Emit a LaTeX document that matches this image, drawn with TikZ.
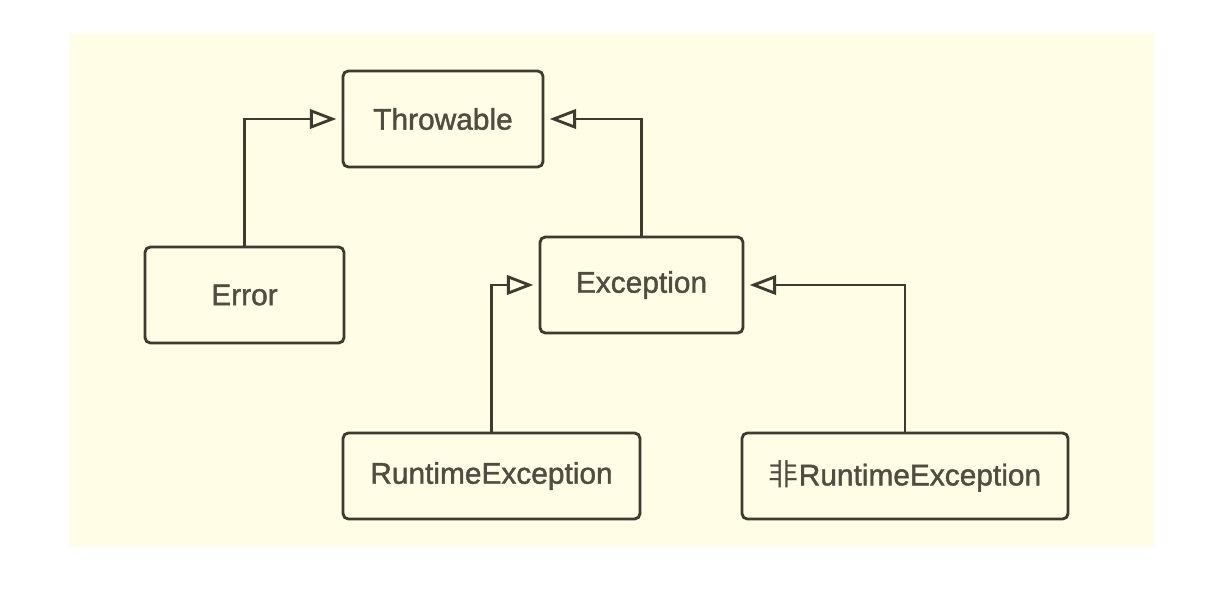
\documentclass[tikz,border=0pt]{standalone}
\usepackage{fontspec}
\setmainfont{Liberation Sans}[BoldFont={Liberation Sans}, BoldFeatures={FakeBold=1.4}]
\newfontfamily\cjk{Noto Sans CJK SC}
\usetikzlibrary{arrows.meta}
\definecolor{paper}{RGB}{255,253,230}
\definecolor{ink}{RGB}{62,58,48}
\definecolor{txt}{RGB}{80,76,66}
\tikzstyle{cls} = [rectangle, rounded corners=3pt, minimum width=4cm, minimum height=1.92cm, text centered, draw=ink, line width=1.6pt, fill=paper, text=txt, font=\bfseries\fontsize{17}{20}\selectfont]
\tikzstyle{sub} = [cls, minimum height=1.72cm]
\tikzstyle{inherit} = [draw=ink, line width=1.6pt, shorten >=3pt, -{Triangle[open, length=15pt, width=11pt]}]

\begin{document}
\begin{tikzpicture}[x=0.02cm, y=-0.02cm]

\useasboundingbox (0,0) rectangle (1216,590);
\fill[paper] (70,33) rectangle (1154,547);

\node (throwable) [cls] at (443,119) {Throwable};
\node (error) [cls, minimum width=3.98cm] at (244.5,295) {Error};
\node (exception) [cls, minimum width=4.06cm] at (641.5,285) {Exception};

\node (runtime) [sub, minimum width=5.94cm] at (491.5,476) {RuntimeException};
\node (checked) [sub, minimum width=6.52cm] at (905,476) {{\cjk\mdseries 非}RuntimeException};


\draw[inherit] (error.north) |- (throwable.west);
\draw[inherit] (exception.north) |- (throwable.east);
\draw[inherit] (runtime.north) |- (exception.west);
\draw[inherit] (checked.north) |- (exception.east);

\end{tikzpicture}
\end{document}
